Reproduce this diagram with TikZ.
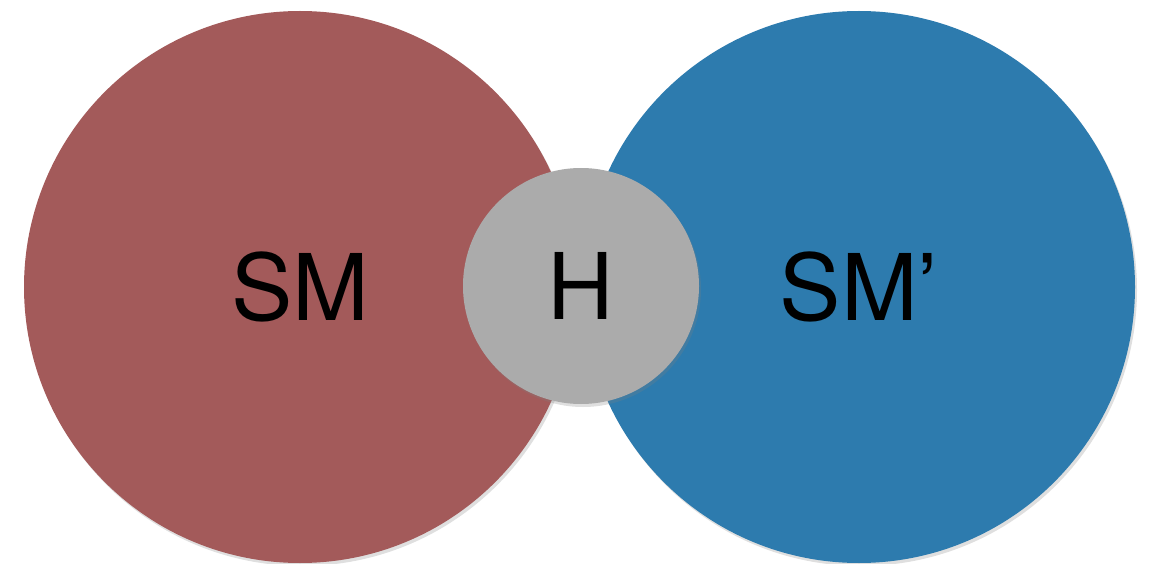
\documentclass[tikz,border=0pt]{standalone}
\usepackage{fontspec}
\setmainfont{TeX Gyre Heros}
\usetikzlibrary{shadows}

\definecolor{smred}{HTML}{A35A5A}
\definecolor{smblue}{HTML}{2D7BAE}
\definecolor{hgray}{HTML}{ABABAB}

\begin{document}
\begin{tikzpicture}[
  x=1pt, y=-1pt,
  font=\fontsize{92}{92}\selectfont,
  disc/.style={circle, inner sep=0pt, text=black,
    drop shadow={opacity=0.25, shadow xshift=2pt, shadow yshift=-3pt}},
  bigdisc/.style={disc, minimum size=552pt},
  smalldisc/.style={disc, minimum size=236pt},
]
\useasboundingbox (0,0) rectangle (1152,564);

% --- the two sectors ---
\node[bigdisc, fill=smred] (sm) at (300,287) {SM};
\node[bigdisc, fill=smblue] (smp) at (859,287) {SM’};

% --- Higgs portal ---
\node[smalldisc, fill=hgray] (higgs) at (581,286) {H};

\end{tikzpicture}
\end{document}
